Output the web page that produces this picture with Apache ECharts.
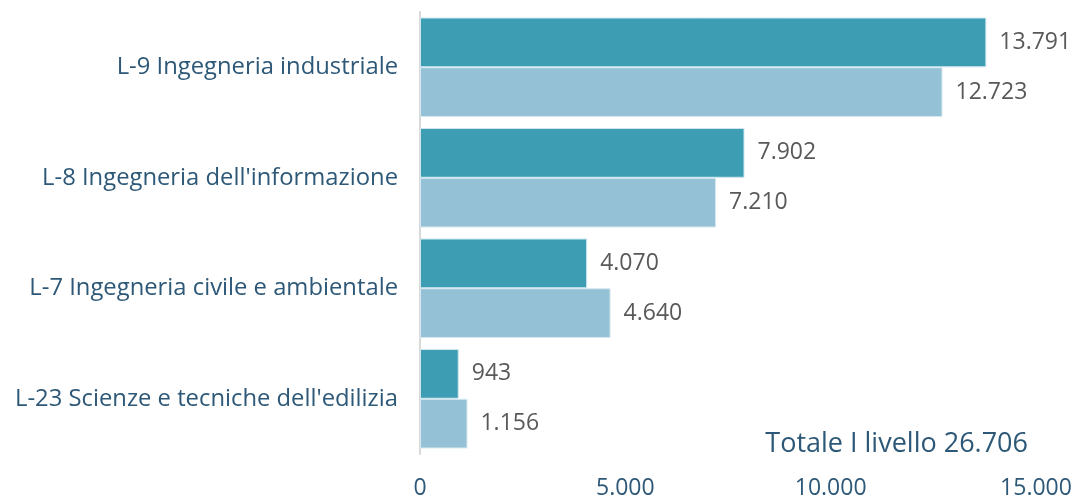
<!DOCTYPE html>
<html>
<head>
<meta charset="utf-8">
<script src="https://cdn.jsdelivr.net/npm/echarts@6/dist/echarts.min.js"></script>
<style>
  html, body { margin: 0; padding: 0; background: #fff; }
  #chart { width: 1077px; height: 500px; }
</style>
</head>
<body>
<div id="chart"></div>
<script>
// categories top to bottom
const categories = [
  "L-9 Ingegneria industriale",
  "L-8 Ingegneria dell'informazione",
  "L-7 Ingegneria civile e ambientale",
  "L-23 Scienze e tecniche dell'edilizia"
];
const seriesDark = [13791, 7902, 4070, 943];
const seriesLight = [12723, 7210, 4640, 1156];
const xTicks = [0, 5000, 10000, 15000];
const totalLabel = "Totale I livello 26.706";

const FONT = "Open Sans";

// Italian thousands separator
const fmt = (v) => String(v).replace(/\B(?=(\d{3})+(?!\d))/g, ".");

const chart = echarts.init(document.getElementById("chart"));

const barLabel = {
  show: true,
  position: "right",
  distance: 13,
  color: "#595959",
  fontFamily: FONT,
  fontSize: 23,
  padding: [4, 0, 0, 0],
  formatter: (p) => fmt(p.value)
};

chart.setOption({
  animation: false,
  grid: { left: 420, right: 41, top: 12, bottom: 44, containLabel: false },
  xAxis: {
    type: "value",
    min: xTicks[0],
    max: xTicks[xTicks.length - 1],
    interval: 5000,
    splitLine: { show: false },
    axisLine: { show: false },
    axisTick: { show: false },
    axisLabel: {
      margin: 23,
      color: "#2d5877",
      fontFamily: FONT,
      fontSize: 23,
      formatter: (v) => fmt(v)
    }
  },
  yAxis: {
    type: "category",
    data: categories,
    inverse: true,
    axisLine: { show: true, lineStyle: { color: "#d9d9d9", width: 2 } },
    axisTick: { show: false },
    axisLabel: {
      margin: 22,
      color: "#2d5877",
      fontFamily: FONT,
      fontSize: 23.8
    }
  },
  series: [
    {
      name: "A",
      type: "bar",
      data: seriesDark,
      barGap: "0%",
      barCategoryGap: "10%",
      itemStyle: { color: "#3d9db3", borderColor: "#cfe6ee", borderWidth: 1 },
      label: barLabel
    },
    {
      name: "B",
      type: "bar",
      data: seriesLight,
      itemStyle: { color: "#94c1d6", borderColor: "#d6e8f0", borderWidth: 1 },
      label: barLabel
    }
  ],
  graphic: [
    {
      type: "text",
      right: 49,
      top: 431,
      style: {
        text: totalLabel,
        fill: "#2d5877",
        fontFamily: FONT,
        fontSize: 27
      }
    }
  ]
});
</script>
</body>
</html>
